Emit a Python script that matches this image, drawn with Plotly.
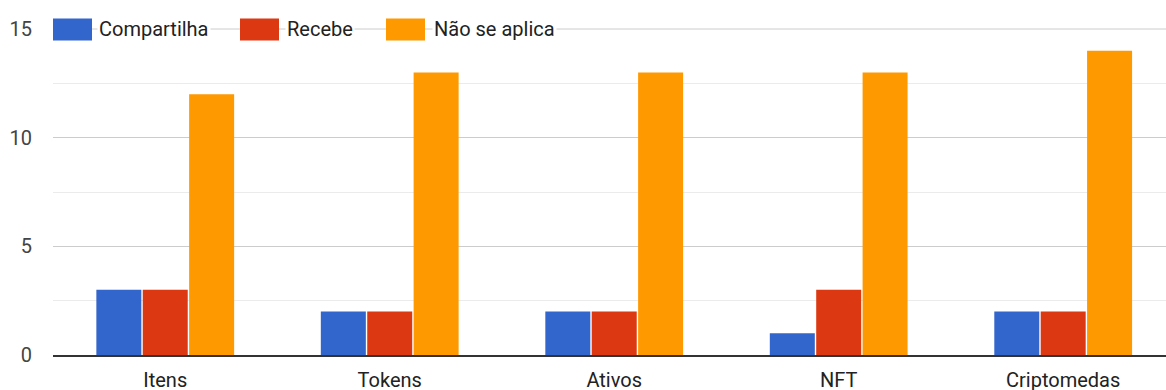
import plotly.graph_objects as go

# Categories and counts per response
categories = ["Itens", "Tokens", "Ativos", "NFT", "Criptomedas"]
series_names = ["Compartilha", "Recebe", "Não se aplica"]
compartilha = [3, 2, 2, 1, 2]
recebe = [3, 2, 2, 3, 2]
nao_se_aplica = [12, 13, 13, 13, 14]
y_ticks = [0, 5, 10, 15]

colors = ["#3366cc", "#dc3912", "#ff9900"]
font_family = "Roboto, Arial, sans-serif"

W, H = 1166, 390
M_L, M_R, M_T, M_B = 53, 0, 29, 35
plot_w = W - M_L - M_R
plot_h = H - M_T - M_B

fig = go.Figure()
for name, vals, col in zip(series_names, [compartilha, recebe, nao_se_aplica], colors):
    fig.add_trace(go.Bar(
        name=name, x=categories, y=vals,
        marker=dict(color=col, line=dict(width=0)),
        showlegend=False,
    ))


def px_x(px):
    return (px - M_L) / plot_w


def px_y(py):
    return (H - M_B - py) / plot_h


# Top gridline at the upper edge of the value range
shapes = [dict(
    type="line", xref="paper", yref="paper", x0=0, x1=1, y0=1, y1=1,
    line=dict(color="#cccccc", width=1), layer="below",
)]
annotations = []

# Legend drawn along the top gridline: swatches plus labels on white boxes
legend_items = [
    (53, 92, 97),
    (240, 279, 285),
    (386, 425, 432),
]
for (sx0, sx1, tx), name, col in zip(legend_items, series_names, colors):
    shapes.append(dict(
        type="rect", xref="paper", yref="paper",
        x0=px_x(sx0), x1=px_x(sx1), y0=px_y(40.5), y1=px_y(18.5),
        fillcolor=col, line=dict(width=0), layer="above",
    ))
    annotations.append(dict(
        xref="paper", yref="paper", x=px_x(tx), y=1.0,
        xanchor="left", yanchor="middle", showarrow=False,
        text=name, bgcolor="white", borderpad=1,
        font=dict(family=font_family, size=20, color="#222222"),
    ))

fig.update_layout(
    width=W, height=H,
    margin=dict(l=M_L, r=M_R, t=M_T, b=M_B, pad=0),
    paper_bgcolor="white", plot_bgcolor="white",
    barmode="group", bargap=0.38, bargroupgap=0.03,
    font=dict(family=font_family, size=20, color="#444444"),
    shapes=shapes, annotations=annotations,
    showlegend=False,
    xaxis=dict(
        range=[-0.5, 4.458], showgrid=False, zeroline=False,
        showline=True, linecolor="#333333", linewidth=2,
        ticks="", ticklabelstandoff=6, automargin=False,
        tickfont=dict(size=20, color="#222222"),
        fixedrange=True,
    ),
    yaxis=dict(
        range=[0, 15], tickvals=y_ticks, ticktext=[str(v) for v in y_ticks],
        showgrid=True, gridcolor="#cccccc", gridwidth=1,
        minor=dict(dtick=2.5, showgrid=True, gridcolor="#ebebeb", gridwidth=1),
        zeroline=False, showline=False, ticks="", ticklabelstandoff=20,
        automargin=False,
        tickfont=dict(size=20, color="#444444"),
        fixedrange=True,
    ),
)

fig.write_html("out.html", config={"displayModeBar": False})
